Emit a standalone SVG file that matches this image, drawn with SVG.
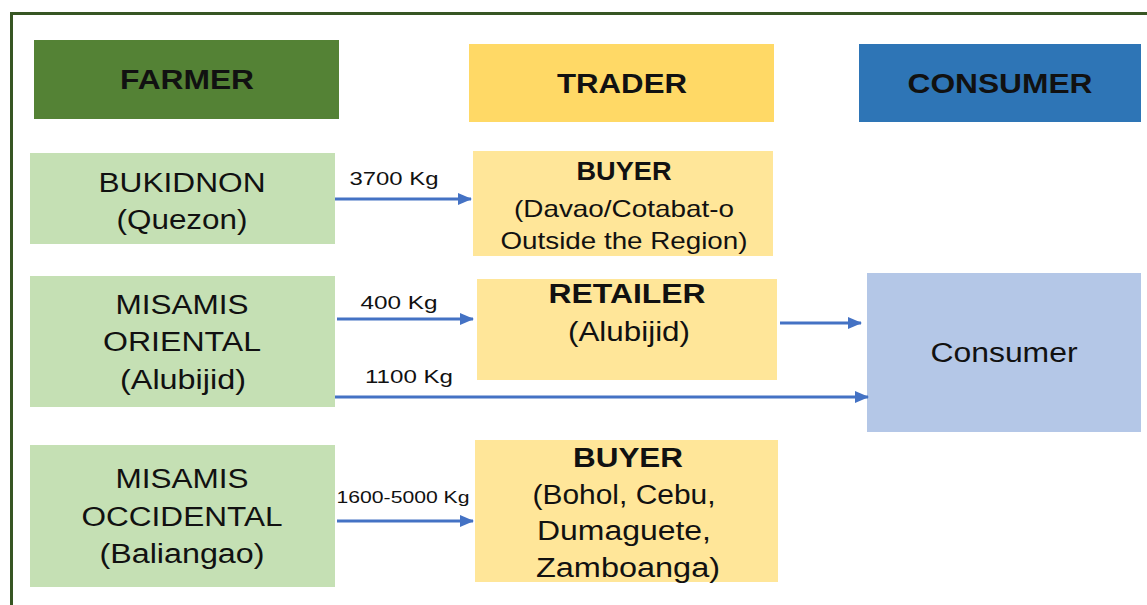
<svg xmlns="http://www.w3.org/2000/svg" width="1147" height="605" viewBox="0 0 1147 605">
<style>
text{font-family:"Liberation Sans",Arial,sans-serif;fill:#111;text-anchor:middle}
.h{font-weight:bold;font-size:27px}
.n{font-size:27px}
.b{font-weight:bold;font-size:26px}
.s{font-size:24px}
.l{font-size:19px}
.l2{font-size:17px}
.c{stroke:#4472C4;stroke-width:3;fill:none;marker-end:url(#ah)}
</style>
<defs>
<marker id="ah" markerUnits="userSpaceOnUse" markerWidth="14" markerHeight="12" refX="13" refY="6" orient="auto">
<path d="M0,0 L14,6 L0,12 Z" fill="#4472C4"/>
</marker>
</defs>
<rect width="1147" height="605" fill="#fff"/>
<path d="M11.5,605 V13.5 H1147" fill="none" stroke="#375623" stroke-width="3"/>
<g id="farmer-h"><rect x="34" y="40" width="305" height="79" fill="#548235"/><text class="h" x="187" y="89" textLength="134" lengthAdjust="spacingAndGlyphs">FARMER</text></g>
<g id="trader-h"><rect x="469" y="44" width="305" height="78" fill="#FFD966"/><text class="h" x="622" y="93" textLength="130" lengthAdjust="spacingAndGlyphs">TRADER</text></g>
<g id="consumer-h"><rect x="859" y="44" width="282" height="78" fill="#2E75B6"/><text class="h" x="1000" y="93" textLength="185" lengthAdjust="spacingAndGlyphs">CONSUMER</text></g>
<g id="bukidnon"><rect x="30" y="153" width="305" height="91" fill="#C5E0B4"/>
<text class="n" x="182" y="192" textLength="167" lengthAdjust="spacingAndGlyphs">BUKIDNON</text>
<text class="n" x="182" y="229" textLength="131" lengthAdjust="spacingAndGlyphs">(Quezon)</text></g>
<g id="buyer1"><rect x="473" y="151" width="300" height="105" fill="#FFE699"/>
<text class="b" x="624" y="180" textLength="95" lengthAdjust="spacingAndGlyphs">BUYER</text>
<text class="s" x="624" y="217" textLength="220" lengthAdjust="spacingAndGlyphs">(Davao/Cotabat-o</text>
<text class="s" x="624" y="249" textLength="247" lengthAdjust="spacingAndGlyphs">Outside the Region)</text></g>
<g id="misamis-oriental"><rect x="30" y="276" width="305" height="131" fill="#C5E0B4"/>
<text class="n" x="182" y="314" textLength="133" lengthAdjust="spacingAndGlyphs">MISAMIS</text>
<text class="n" x="182" y="351" textLength="158" lengthAdjust="spacingAndGlyphs">ORIENTAL</text>
<text class="n" x="183" y="389" textLength="126" lengthAdjust="spacingAndGlyphs">(Alubijid)</text></g>
<g id="retailer"><rect x="477" y="279" width="300" height="101" fill="#FFE699"/>
<text class="h" x="627" y="303" textLength="157" lengthAdjust="spacingAndGlyphs">RETAILER</text>
<text class="n" x="629" y="341" textLength="122" lengthAdjust="spacingAndGlyphs">(Alubijid)</text></g>
<g id="consumer"><rect x="867" y="273" width="274" height="159" fill="#B4C7E7"/>
<text class="n" x="1004" y="362" textLength="147" lengthAdjust="spacingAndGlyphs">Consumer</text></g>
<g id="misamis-occidental"><rect x="30" y="445" width="305" height="142" fill="#C5E0B4"/>
<text class="n" x="182" y="488" textLength="133" lengthAdjust="spacingAndGlyphs">MISAMIS</text>
<text class="n" x="182" y="526" textLength="201" lengthAdjust="spacingAndGlyphs">OCCIDENTAL</text>
<text class="n" x="182" y="563" textLength="165" lengthAdjust="spacingAndGlyphs">(Baliangao)</text></g>
<g id="buyer3"><rect x="475" y="440" width="303" height="142" fill="#FFE699"/>
<text class="h" x="628" y="467" textLength="110" lengthAdjust="spacingAndGlyphs">BUYER</text>
<text class="n" x="624" y="504" textLength="183" lengthAdjust="spacingAndGlyphs">(Bohol, Cebu,</text>
<text class="n" x="624" y="540" textLength="174" lengthAdjust="spacingAndGlyphs">Dumaguete,</text>
<text class="n" x="628" y="577" textLength="184" lengthAdjust="spacingAndGlyphs">Zamboanga)</text></g>
<g id="connectors">
<path class="c" d="M335,199 H471"/>
<text class="l" x="394" y="185" textLength="89" lengthAdjust="spacingAndGlyphs">3700 Kg</text>
<path class="c" d="M337,319 H473"/>
<text class="l" x="399" y="309" textLength="77" lengthAdjust="spacingAndGlyphs">400 Kg</text>
<path class="c" d="M780,323 H861"/>
<path class="c" d="M335,397 H868"/>
<text class="l" x="409" y="383" textLength="88" lengthAdjust="spacingAndGlyphs">1100 Kg</text>
<path class="c" d="M337,521 H473"/>
<text class="l2" x="403" y="503" textLength="133" lengthAdjust="spacingAndGlyphs">1600-5000 Kg</text>
</g>
</svg>
